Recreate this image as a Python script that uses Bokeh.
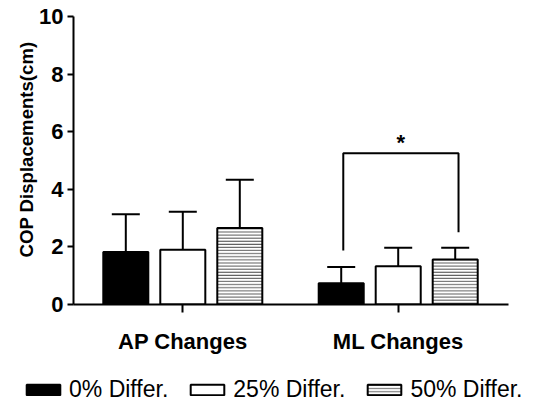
from bokeh.plotting import figure
from bokeh.models import (ColumnDataSource, Whisker, TeeHead, FixedTicker,
                          Legend, LegendItem, Title)
from bokeh.core.properties import value
from bokeh.embed import file_html
from bokeh.resources import INLINE

# ---- data ----
groups = ["AP Changes", "ML Changes"]
series = ["0% Differ.", "25% Differ.", "50% Differ."]
mean_0 = [1.82, 0.74]
mean_25 = [1.90, 1.33]
mean_50 = [2.66, 1.56]
sd_0 = [1.31, 0.56]
sd_25 = [1.32, 0.64]
sd_50 = [1.67, 0.41]
y_ticks = [0, 2, 4, 6, 8, 10]
y_title = "COP Displacements(cm)"
bracket_x = [1.745, 1.745, 2.28, 2.28]
bracket_y = [1.875, 5.25, 5.25, 2.51]
star_label = "*"
star_y = 5.63

FONT = "Liberation Sans"
group_pos = [i + 1 for i in range(len(groups))]
offsets = [-0.2646, 0.0, 0.2646]
bar_w = 0.209

p = figure(width=534, height=370, output_backend="svg", toolbar_location=None,
           x_range=(0.4926, 2.512), y_range=(0, 10),
           min_border_left=73, min_border_right=26, min_border_top=16,
           min_border_bottom=66)
p.outline_line_color = None
p.xgrid.visible = False
p.ygrid.visible = False
p.background_fill_color = "white"
p.border_fill_color = "white"

styles = [
    dict(fill_color="black", line_color="black"),
    dict(fill_color="white", line_color="black"),
    dict(fill_color="white", line_color="black", hatch_pattern="horizontal_line",
         hatch_color="#555555", hatch_weight=1, hatch_scale=3.1),
]
means = [mean_0, mean_25, mean_50]
sds = [sd_0, sd_25, sd_50]

for k in range(3):
    xs = [g + offsets[k] for g in group_pos]
    src = ColumnDataSource(dict(x=xs, top=means[k],
                                upper=[m + s for m, s in zip(means[k], sds[k])]))
    p.vbar(x="x", top="top", bottom=0, width=bar_w, source=src,
           line_width=2, **styles[k])
    w = Whisker(source=src, base="x", lower="top", upper="upper",
                dimension="height", line_width=2, line_color="black",
                lower_head=None,
                upper_head=TeeHead(size=28, line_width=2, line_color="black"))
    p.add_layout(w)

# significance bracket
p.line(bracket_x, bracket_y, line_width=2, line_color="black")
p.text(x=[(bracket_x[0] + bracket_x[2]) / 2], y=[star_y],
       text=[star_label], text_font=value(FONT), text_font_style="bold",
       text_font_size="22px", text_align="center", text_baseline="alphabetic",
       text_color="black")

# axes
xa = p.xaxis[0]
xa.ticker = FixedTicker(ticks=group_pos)
xa.major_label_overrides = {g: name for g, name in zip(group_pos, groups)}
xa.minor_tick_line_color = None
xa.major_tick_in = 0
xa.major_tick_out = 8
xa.major_tick_line_width = 2
xa.axis_line_width = 2
xa.major_label_text_font = FONT
xa.major_label_text_font_style = "bold"
xa.major_label_text_font_size = "22px"
xa.major_label_text_color = "black"
xa.major_label_standoff = 16

ya = p.yaxis[0]
ya.ticker = FixedTicker(ticks=y_ticks)
ya.minor_tick_line_color = None
ya.major_tick_in = 0
ya.major_tick_out = 6
ya.major_tick_line_width = 2
ya.axis_line_width = 2
ya.major_label_text_font = FONT
ya.major_label_text_font_style = "bold"
ya.major_label_text_font_size = "22px"
ya.major_label_text_color = "black"
ya.major_label_standoff = 4
ya.axis_label_standoff = 0

# y-axis title as a left-side title, started a little above the frame bottom
p.add_layout(Title(text=y_title, align="left", offset=47, standoff=0,
                   text_font=FONT, text_font_style="bold",
                   text_font_size="18.6px", text_color="black"), "left")

# legend strip below the chart (separate root, full-width frame)
lg = figure(width=534, height=31, output_backend="svg", toolbar_location=None,
            x_range=(0, 1), y_range=(0, 1), x_axis_location=None,
            y_axis_location=None, min_border=0)
lg.outline_line_color = None
lg.xgrid.visible = False
lg.ygrid.visible = False
lg.background_fill_color = "white"
lg.border_fill_color = "white"
leg_renderers = []
for k in range(3):
    # a non-drawable (NaN) bar per series: only its legend swatch is shown
    off = ColumnDataSource(dict(x=[float("nan")], top=[float("nan")]))
    leg_renderers.append(lg.vbar(x="x", top="top", bottom=0, width=0.1,
                                 source=off, line_width=2, **styles[k]))

legend = Legend(items=[LegendItem(label=s, renderers=[r])
                       for s, r in zip(series, leg_renderers)],
                location=(22, -2), orientation="horizontal",
                glyph_width=42, glyph_height=13, label_standoff=5, spacing=18,
                padding=0, margin=0, border_line_color=None,
                background_fill_alpha=0,
                label_text_font=FONT, label_text_font_size="23px",
                label_text_color="black")
lg.add_layout(legend)

open("out.html", "w").write(file_html([p, lg], INLINE))
